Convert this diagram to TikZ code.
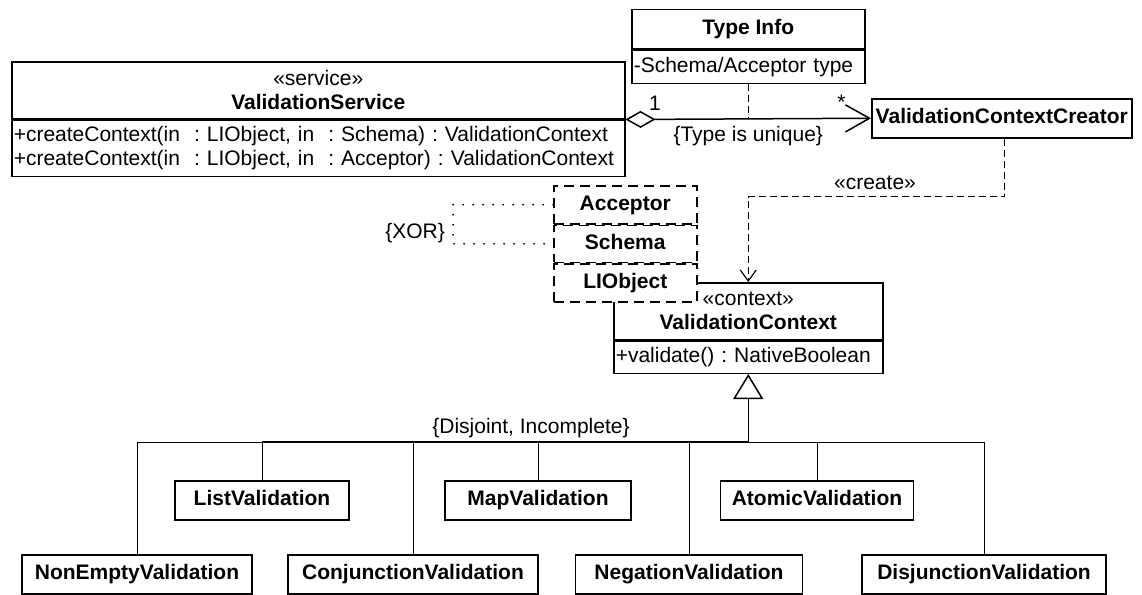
\documentclass[tikz,border=0pt]{standalone}
\usepackage{fontspec}
\setmainfont{Liberation Sans}
\usetikzlibrary{arrows.meta, positioning}

\newcommand{\umlfont}{\fontsize{21}{24}\selectfont\frenchspacing}

\begin{document}
\begin{tikzpicture}[
        x=1pt, y=-1pt,
        every node/.style={inner sep=0pt, font=\umlfont},
        box/.style={draw, line width=1.5pt, fill=white, align=center},
        namebox/.style={box, font=\umlfont\bfseries, text height=15pt, text depth=4.5pt},
        opsbox/.style={box, align=left, inner xsep=2pt},
        hidden/.style={namebox, dash pattern=on 10pt off 6pt, minimum width=143pt},
        leaf/.style={namebox, minimum height=39pt},
        lbl/.style={inner sep=2pt},
        aggr/.style={line width=1.5pt, {Diamond[open, length=30pt, width=17pt]}-{Straight Barb[length=24pt, width=27pt]}},
        depend/.style={line width=1.2pt, dash pattern=on 7pt off 4pt},
        xorline/.style={line width=2pt, line cap=round, dash pattern=on 0pt off 10pt},
        gen/.style={line width=1.5pt},
        branch/.style={line width=0.9pt}
    ]
    \useasboundingbox (0,0) rectangle (1142,594);

    % Classes
    \node[box, minimum width=613pt, minimum height=57pt, anchor=north west] (servicehead) at (11,61) {«service»\\\textbf{ValidationService}};
    \node[opsbox, text width=609pt, minimum height=56pt, below=0pt of servicehead] (serviceops) {\mbox{+createContext(in~~: LIObject, in~~: Schema) : ValidationContext}\\\mbox{+createContext(in~~: LIObject, in~~: Acceptor) : ValidationContext}};

    \node[namebox, minimum width=233pt, minimum height=39pt, anchor=north west] (typeinfo) at (631,9) {Type Info};
    \node[opsbox, text width=229pt, minimum height=33pt, below=0pt of typeinfo] (typeattr) {-Schema/Acceptor type};

    \node[namebox, minimum width=260pt, minimum height=39pt, anchor=north west] (creator) at (871,98) {ValidationContextCreator};

    \node[box, minimum width=269pt, minimum height=57pt, anchor=north west] (contexthead) at (613,282) {«context»\\\textbf{ValidationContext}};
    \node[opsbox, text width=265pt, minimum height=32pt, below=0pt of contexthead] (contextops) {+validate() : NativeBoolean};

    % Parameters (dashed)
    \node[hidden, minimum height=38pt, anchor=north west] (acceptor) at (553,185) {Acceptor};
    \node[hidden, minimum height=37pt, below=0pt of acceptor] (schema) {Schema};
    \node[hidden, minimum height=38pt, below=0pt of schema] (liobject) {LIObject};

    % Subclasses
    \node[leaf, minimum width=174pt, anchor=north] (listval) at (262,480) {ListValidation};
    \node[leaf, minimum width=186pt, anchor=north] (mapval) at (538,480) {MapValidation};
    \node[leaf, minimum width=193pt, anchor=north] (atomicval) at (817,480) {AtomicValidation};
    \node[leaf, minimum width=230pt, anchor=north] (nonemptyval) at (137,554) {NonEmptyValidation};
    \node[leaf, minimum width=250pt, anchor=north] (conjval) at (413,554) {ConjunctionValidation};
    \node[leaf, minimum width=227pt, anchor=north] (negval) at (689,554) {NegationValidation};
    \node[leaf, minimum width=244pt, anchor=north] (disjval) at (984,554) {DisjunctionValidation};

    % Labels
    \node[lbl, anchor=east] (xorlbl) at (447,233) {\{XOR\}};
    \node[lbl] (createlbl) at (875,183) {«create»};
    \node[lbl] (genset) at (531,428) {\{Disjoint, Incomplete\}};

    % Connections
    \draw[aggr] (servicehead.south east) -- (creator.west)
        node[lbl, pos=0.12, above=6pt] {1}
        node[lbl, pos=0.88, above=6pt] {*}
        node[lbl, pos=0.5, below=5pt] {\{Type is unique\}};
    \draw[depend] (typeattr.south) -- (typeattr.south |- creator.west);
    \draw[depend, -{Straight Barb[length=11pt, width=16pt]}] ([xshift=3pt]creator.south) -- ++(0,58) -| (contexthead.north);
    \draw[xorline] (acceptor.west) -- ++(-100,0) |- (schema.west);

    \coordinate (bus) at (contextops.south |- 0,442);
    \draw[gen, -{Triangle[open, length=25pt, width=30pt]}] (bus) -- (contextops.south);
    \draw[branch] (nonemptyval.north |- bus) -- (disjval.north |- bus);
    \draw[gen] (listval.north |- bus) -- (bus);
    \foreach \sub in {nonemptyval, listval, conjval, mapval, negval, atomicval, disjval}
        \draw[branch] (\sub.north) -- (\sub.north |- bus);

\end{tikzpicture}
\end{document}
